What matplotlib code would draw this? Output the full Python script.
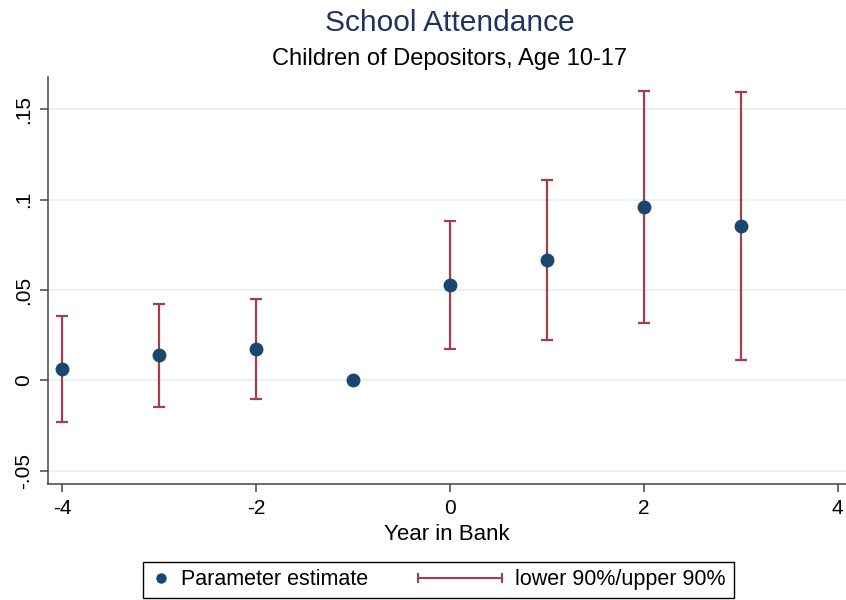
import numpy as np
import matplotlib
matplotlib.use("Agg")
import matplotlib.pyplot as plt
from matplotlib.lines import Line2D
from matplotlib.legend_handler import HandlerBase, HandlerLine2D

plt.rcParams['font.family'] = ['Liberation Sans', 'DejaVu Sans']

# event-study estimates, 90% band
years = [-4, -3, -2, -1, 0, 1, 2, 3]
estimate = [0.0063, 0.0138, 0.0173, 0.0, 0.0528, 0.0664, 0.0958, 0.0854]
lower90 = [-0.0233, -0.0148, -0.0104, np.nan, 0.0176, 0.0221, 0.0316, 0.0111]
upper90 = [0.0358, 0.0421, 0.0453, np.nan, 0.0880, 0.1111, 0.1600, 0.1596]

yticks = [-0.05, 0, 0.05, 0.10, 0.15]
ytick_labels = ["-.05", "0", ".05", ".1", ".15"]
xticks = [-4, -2, 0, 2, 4]

dot_col = "#1a476f"
bar_col = "#a33f4a"
grid_col = "#e3eef1"
spine_col = "#444444"


class RangeCapHandler(HandlerBase):
    # horizontal capped bar for the legend, ending just inside the handle box
    def create_artists(self, legend, orig_handle, xdescent, ydescent,
                       width, height, fontsize, trans):
        y = height / 2 - ydescent
        x1 = -xdescent + 12.7
        x0 = x1 - 61.0
        ln = Line2D([x0, x1], [y, y], color=bar_col, lw=1.5,
                    marker="|", markersize=7.5, markeredgewidth=1.5)
        ln.set_transform(trans)
        return [ln]


fig = plt.figure(figsize=(8.46, 6.0), dpi=100)
ax = fig.add_axes([0.0571, 0.1933, 0.9429, 0.6783])

x = np.array(years, dtype=float)
est = np.array(estimate)
lo = np.array(lower90)
hi = np.array(upper90)
ok = ~np.isnan(lo)

ax.errorbar(x[ok], est[ok], yerr=[est[ok] - lo[ok], hi[ok] - est[ok]],
            fmt="none", ecolor=bar_col, elinewidth=1.6, capsize=4,
            capthick=1.6, zorder=2)
ax.plot(x, est, "o", color=dot_col, markersize=10, markeredgewidth=0,
        zorder=3)

ax.set_xlim(-4.141, 4.086)
ax.set_ylim(-0.0574, 0.1679)
ax.set_xticks(xticks)
ax.set_xticklabels([str(t) for t in xticks])
ax.set_yticks(yticks)
ax.set_yticklabels(ytick_labels, rotation=90, va="center")

ax.grid(axis="y", color=grid_col, lw=1.1)
ax.set_axisbelow(True)
for s in ["top", "right"]:
    ax.spines[s].set_visible(False)
for s in ["left", "bottom"]:
    ax.spines[s].set_color(spine_col)
    ax.spines[s].set_linewidth(1.1)
ax.tick_params(axis="both", length=6, width=1.1, color=spine_col,
               labelsize=15, pad=5)

ax.set_xlabel("Year in Bank", fontsize=16, labelpad=4)

fig.text(450 / 846, 1 - 31 / 600, "School Attendance", fontsize=21.5,
         color="#1f3361", ha="center", va="baseline")
fig.text(450 / 846, 1 - 65 / 600, "Children of Depositors, Age 10-17",
         fontsize=17, color="black", ha="center", va="baseline")

dot_handle = Line2D([], [], marker="o", ls="none", color=dot_col,
                    markersize=7.5, markeredgewidth=0)
bar_handle = Line2D([], [], color=bar_col)
leg = fig.legend([dot_handle, bar_handle],
                 ["Parameter estimate", "lower 90%/upper 90%"],
                 handler_map={dot_handle: HandlerLine2D(numpoints=1),
                              bar_handle: RangeCapHandler()},
                 ncols=2, loc="lower left",
                 bbox_to_anchor=(143 / 846, 2 / 600),
                 fontsize=15.5, handlelength=1.0, handletextpad=0.43,
                 columnspacing=5.4, borderpad=0.35, borderaxespad=0,
                 fancybox=False, frameon=True, edgecolor="black",
                 framealpha=1)
leg.get_frame().set_linewidth(1.0)

fig.savefig("out.png", dpi=100)
